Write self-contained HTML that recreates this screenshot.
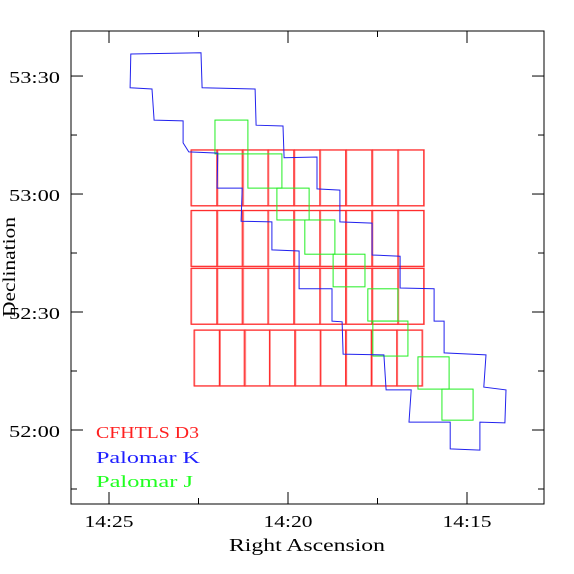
<!DOCTYPE html>
<html><head><meta charset="utf-8"><style>
html,body{margin:0;padding:0;background:#fff;}
svg{display:block;font-family:"Liberation Serif",serif;}
</style></head><body>
<svg id="chart" width="574" height="574" viewBox="0 0 574 574" xmlns="http://www.w3.org/2000/svg">
<rect x="0" y="0" width="574" height="574" fill="#fff"/>
<g id="marks"></g>
<g id="axes"></g>
<rect x="71" y="31" width="473" height="473" fill="none" stroke="#000" stroke-width="1"/>
<text x="307" y="551" font-size="18" text-anchor="middle" textLength="156" lengthAdjust="spacingAndGlyphs">Right Ascension</text>
<text transform="translate(15,267) rotate(-90)" font-size="18" text-anchor="middle" textLength="100" lengthAdjust="spacingAndGlyphs">Declination</text>
<g>
<text x="96" y="438" font-size="17" fill="#ff2020" textLength="103" lengthAdjust="spacingAndGlyphs">CFHTLS D3</text>
<text x="96" y="463" font-size="17" fill="#2020ff" textLength="104" lengthAdjust="spacingAndGlyphs">Palomar K</text>
<text x="96" y="487" font-size="17" fill="#20ff20" textLength="97" lengthAdjust="spacingAndGlyphs">Palomar J</text>
</g>
</svg>
<script>
// RA in minutes of time after 14h; Dec in arcmin above +52:00
const xTickValues = [25, 20, 15];
const xTickLabels = ["14:25", "14:20", "14:15"];
const xMinorValues = [22.5, 17.5];
const yTickValues = [90, 60, 30, 0];
const yTickLabels = ["53:30", "53:00", "52:30", "52:00"];
const yMinorValues = [105, 75, 45, 15, -15];

// CFHTLS D3 field centres
const cfhtRowDec = [64.1, 48.7, 34.0, 18.3];
const cfhtRowShift = [0, 0, 0, -0.02];
const cfhtRowSpacing = [1, 1, 1, 0.98];
const cfhtColRA = [22.35, 21.62, 20.92, 20.20, 19.47, 18.75, 18.02, 17.29, 16.57];
const cfhtFieldW = 0.72;   // minutes of RA
const cfhtFieldH = 14.2;   // arcmin

// Palomar K outline (RA, Dec)
const palKRA = [24.39,22.43,22.40,20.92,20.89,20.14,20.11,19.19,19.19,18.55,18.55,17.65,17.65,16.87,16.87,15.92,15.92,15.64,15.64,14.47,14.53,13.91,13.94,14.64,14.64,15.47,15.47,16.62,16.56,17.26,17.32,18.46,18.49,18.77,18.77,19.69,19.69,20.45,20.45,21.31,21.28,21.98,21.96,22.77,22.93,22.93,23.74,23.80,24.41];
const palKDec = [95.6,95.9,87.0,86.7,77.5,77.3,69.2,69.4,61.3,61.0,52.9,52.6,44.5,44.2,36.1,35.9,27.7,27.7,19.6,19.1,10.9,10.2,1.8,2.0,-5.1,-4.8,2.0,2.0,10.2,10.2,19.1,19.3,27.5,27.7,35.9,35.9,45.5,45.8,52.9,53.1,61.5,61.5,70.4,70.7,73.0,78.6,78.8,86.7,87.0];

// Palomar J fields (RA east edge, RA west edge, Dec top, Dec bottom)
const palJRAeast = [22.04,21.12,20.31,19.53,18.74,17.77,17.63,16.37,15.70];
const palJRAwest = [21.12,20.17,19.41,18.69,17.85,16.93,16.65,15.50,14.83];
const palJDecTop = [78.8,70.2,61.5,53.4,44.7,35.9,27.7,18.6,10.4];
const palJDecBot = [70.2,61.5,53.4,44.7,36.4,27.7,18.8,10.4,2.5];

const NS = "http://www.w3.org/2000/svg";
function xs(ra){ return 288 + (20 - ra) * 35.8; }
function ys(d){ return 430 - d * 3.933; }
const marks = document.getElementById('marks');
const axes = document.getElementById('axes');
function mk(tag, attrs, parent){
  const e = document.createElementNS(NS, tag);
  for (const k in attrs) e.setAttribute(k, attrs[k]);
  parent.appendChild(e);
  return e;
}

// red CFHTLS fields
const colMid = (cfhtColRA[0] + cfhtColRA[cfhtColRA.length-1]) / 2;
for (let r = 0; r < cfhtRowDec.length; r++) {
  const w = cfhtFieldW * cfhtRowSpacing[r];
  for (let c = 0; c < cfhtColRA.length; c++) {
    const ra = colMid + (cfhtColRA[c] - colMid) * cfhtRowSpacing[r] + cfhtRowShift[r];
    const x1 = xs(ra + w/2), x2 = xs(ra - w/2);
    const y1 = ys(cfhtRowDec[r] + cfhtFieldH/2), y2 = ys(cfhtRowDec[r] - cfhtFieldH/2);
    const g = mk('rect', {x:x1+0.5, y:y1, width:x2-x1, height:y2-y1, fill:'none', stroke:'#ff8080', 'stroke-width':1.5}, marks);
    
    
    const e = mk('rect', {x:x1, y:y1, width:x2-x1, height:y2-y1, fill:'none', stroke:'#ff2a2a', 'stroke-width':1}, marks);
    
    
  }
}
// green Palomar J fields
for (let i = 0; i < palJRAeast.length; i++) {
  const x1 = xs(palJRAeast[i]), x2 = xs(palJRAwest[i]);
  const y1 = ys(palJDecTop[i]), y2 = ys(palJDecBot[i]);
  const e = mk('rect', {x:x1, y:y1, width:x2-x1, height:y2-y1, fill:'none', stroke:'#22ee22', 'stroke-width':1}, marks);
  
  
}
// blue Palomar K outline
{
  const pts = palKRA.map((ra, i) => xs(ra).toFixed(1) + ',' + ys(palKDec[i]).toFixed(1)).join(' ');
  const e = mk('polygon', {points:pts, fill:'none', stroke:'#2222ee', 'stroke-width':1}, marks);
  
  
}

// axes ticks
const L = 71, R = 544, T = 31, B = 504;
xTickValues.forEach((v, i) => {
  const x = xs(v);
  mk('line', {x1:x, y1:B, x2:x, y2:B-12, stroke:'#000'}, axes);
  mk('line', {x1:x, y1:T, x2:x, y2:T+12, stroke:'#000'}, axes);
  const t = mk('text', {x:x, y:527, 'font-size':17, 'text-anchor':'middle', textLength:49, lengthAdjust:'spacingAndGlyphs'}, axes);
  t.textContent = xTickLabels[i];
  
  
});
xMinorValues.forEach(v => {
  const x = xs(v);
  mk('line', {x1:x, y1:B, x2:x, y2:B-6, stroke:'#000'}, axes);
  mk('line', {x1:x, y1:T, x2:x, y2:T+6, stroke:'#000'}, axes);
});
yTickValues.forEach((v, i) => {
  const y = ys(v);
  mk('line', {x1:L, y1:y, x2:L+12, y2:y, stroke:'#000'}, axes);
  mk('line', {x1:R, y1:y, x2:R-12, y2:y, stroke:'#000'}, axes);
  const t = mk('text', {x:60, y:y+7, 'font-size':17, 'text-anchor':'end', textLength:51, lengthAdjust:'spacingAndGlyphs'}, axes);
  t.textContent = yTickLabels[i];
  
  
});
yMinorValues.forEach(v => {
  const y = ys(v);
  if (y < T || y > B) return;
  mk('line', {x1:L, y1:y, x2:L+6, y2:y, stroke:'#000'}, axes);
  mk('line', {x1:R, y1:y, x2:R-6, y2:y, stroke:'#000'}, axes);
});
</script>
</body></html>
